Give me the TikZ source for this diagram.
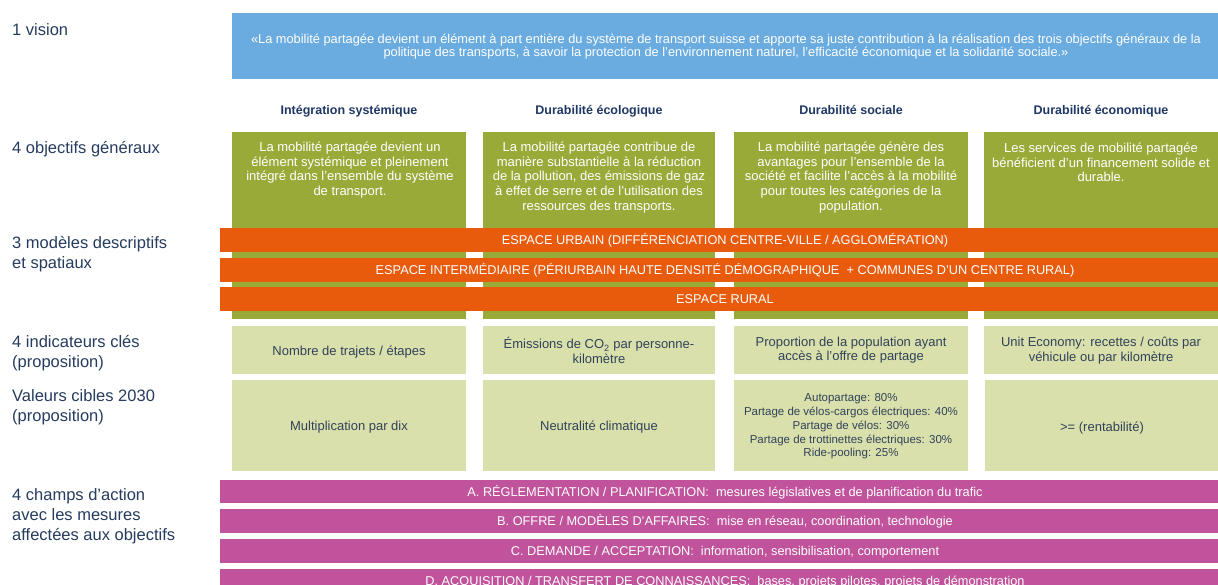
\documentclass[tikz,border=0pt]{standalone}
\usepackage{fontspec}
\setmainfont{Liberation Sans}
\usetikzlibrary{fit}
\definecolor{visblue}{RGB}{106,172,224}
\definecolor{objgreen}{RGB}{154,170,57}
\definecolor{spaceorange}{RGB}{233,91,12}
\definecolor{indgreen}{RGB}{217,224,171}
\definecolor{actpurple}{RGB}{192,83,155}
\definecolor{labelblue}{RGB}{38,60,95}
\definecolor{headblue}{RGB}{31,56,100}
\definecolor{indtext}{RGB}{50,66,90}
\begin{document}
\begin{tikzpicture}[x=1pt,y=-1pt,
  panel/.style={inner sep=0pt, outer sep=0pt, draw=none},
  visionbox/.style={panel, fill=visblue},
  objbox/.style={panel, fill=objgreen},
  spacebar/.style={panel, fill=spaceorange},
  indbox/.style={panel, fill=indgreen},
  actbar/.style={panel, fill=actpurple},
  rowlabel/.style={anchor=west, align=left, inner sep=0pt, text=labelblue, font=\fontsize{16.5}{20}\selectfont},
  colhead/.style={inner sep=0pt, anchor=base, text=headblue, font=\bfseries\fontsize{12.5}{15}\selectfont},
  visiontext/.style={inner sep=0pt, align=center, text=white, font=\fontsize{12.8}{13}\selectfont},
  objtext/.style={inner sep=0pt, align=center, text=white, font=\fontsize{13}{14.7}\selectfont},
  bartext/.style={inner sep=0pt, text height=9.2pt, text depth=2.7pt, text=white, font=\fontsize{12.75}{14}\selectfont},
  indtxt/.style={inner sep=0pt, align=center, text=indtext, font=\fontsize{13}{14.5}\selectfont},
  indline/.style={inner sep=0pt, text height=9.4pt, text depth=2.7pt, text=indtext, font=\fontsize{13}{14.5}\selectfont},
  smalltxt/.style={inner sep=0pt, align=center, text=indtext, font=\fontsize{11.5}{13.7}\selectfont}
]
\useasboundingbox (0,0) rectangle (1218,585);
\clip (0,0) rectangle (1218,585);
\fill[white] (0,0) rectangle (1218,585);

% row labels
\node[rowlabel] (l1) at (12,30) {1 vision};
\node[rowlabel] (l2) at (12,149) {4 objectifs généraux};
\node[rowlabel] (l3) at (12,254) {3 modèles descriptifs\\et spatiaux};
\node[rowlabel] (l4) at (12,353) {4 indicateurs clés\\(proposition)};
\node[rowlabel] (l5) at (12,407) {Valeurs cibles 2030\\(proposition)};
\node[rowlabel] (l6) at (12,516.5) {4 champs d’action\\avec les mesures\\affectées aux objectifs};

% vision
\node[visionbox, fit={(232,13) (1218,79)}] (vis) {};
\node[visiontext] (vist) at (726,46.5) {«La mobilité partagée devient un élément à part entière du système de transport suisse et apporte sa juste contribution à la réalisation des trois objectifs généraux de la\\politique des transports, à savoir la protection de l’environnement naturel, l’efficacité économique et la solidarité sociale.»};

% column headers
\node[colhead] (h1) at (349,114.5) {Intégration systémique};
\node[colhead] (h2) at (599,114.5) {Durabilité écologique};
\node[colhead] (h3) at (851,114.5) {Durabilité sociale};
\node[colhead] (h4) at (1101,114.5) {Durabilité économique};

% objective boxes
\node[objbox, fit={(232,132) (466,319)}] (g1) {};
\node[objbox, fit={(483,132) (715,319)}] (g2) {};
\node[objbox, fit={(734,132) (968,319)}] (g3) {};
\node[objbox, fit={(984,132) (1218,319)}] (g4) {};
\node[objtext] (g1t) at (350,170) {La mobilité partagée devient un\\élément systémique et pleinement\\intégré dans l’ensemble du système\\de transport.};
\node[objtext] (g2t) at (599,177.5) {La mobilité partagée contribue de\\manière substantielle à la réduction\\de la pollution, des émissions de gaz\\à effet de serre et de l’utilisation des\\ressources des transports.};
\node[objtext] (g3t) at (851,177.5) {La mobilité partagée génère des\\avantages pour l’ensemble de la\\société et facilite l’accès à la mobilité\\pour toutes les catégories de la\\population.};
\node[objtext] (g4t) at (1101,162.5) {Les services de mobilité partagée\\bénéficient d’un financement solide et\\durable.};

% spatial bars
\node[spacebar, fit={(220,228) (1218,252)}] (s1) {};
\node[spacebar, fit={(220,258) (1218,282)}] (s2) {};
\node[spacebar, fit={(220,287) (1218,311)}] (s3) {};
\node[bartext] (s1t) at (725,241) {ESPACE URBAIN (DIFFÉRENCIATION CENTRE-VILLE / AGGLOMÉRATION)};
\node[bartext] (s2t) at (725,271) {ESPACE INTERMÉDIAIRE (PÉRIURBAIN HAUTE DENSITÉ DÉMOGRAPHIQUE\ \ + COMMUNES D’UN CENTRE RURAL)};
\node[bartext] (s3t) at (725,300) {ESPACE RURAL};

% indicator boxes
\node[indbox, fit={(232,326) (466,374)}] (i1) {};
\node[indbox, fit={(483,326) (715,374)}] (i2) {};
\node[indbox, fit={(734,326) (968,374)}] (i3) {};
\node[indbox, fit={(984,326) (1218,374)}] (i4) {};
\node[indline] (i1t) at (349,352) {Nombre de trajets / étapes};
\node[indtxt] (i2t) at (599,350.5) {Émissions de CO\textsubscript{2} par personne-\\kilomètre};
\node[indtxt] (i3t) at (851,350) {Proportion de la population ayant\\accès à l’offre de partage};
\node[indtxt] (i4t) at (1101,350.5) {Unit Economy: recettes / coûts par\\véhicule ou par kilomètre};

% target values
\node[indbox, fit={(232,380) (466,471)}] (v1) {};
\node[indbox, fit={(483,380) (715,471)}] (v2) {};
\node[indbox, fit={(734,380) (968,471)}] (v3) {};
\node[indbox, fit={(985,380) (1218,471)}] (v4) {};
\node[indline] (v1t) at (349,427.5) {Multiplication par dix};
\node[indline] (v2t) at (599,427.5) {Neutralité climatique};
\node[smalltxt] (v3t) at (851,426.5) {Autopartage: 80\%\\Partage de vélos-cargos électriques: 40\%\\Partage de vélos: 30\%\\Partage de trottinettes électriques: 30\%\\Ride-pooling: 25\%};
\node[indline] (v4t) at (1102,428.5) {>= (rentabilité)};

% action fields
\node[actbar, fit={(220,480) (1218,503)}] (a1) {};
\node[actbar, fit={(220,509) (1218,533)}] (a2) {};
\node[actbar, fit={(220,539) (1218,563)}] (a3) {};
\node[actbar, fit={(220,569) (1218,593)}] (a4) {};
\node[bartext] (a1t) at (725,493) {A. RÉGLEMENTATION / PLANIFICATION:\ \ mesures législatives et de planification du trafic};
\node[bartext] (a2t) at (725,522) {B. OFFRE / MODÈLES D’AFFAIRES:\ \ mise en réseau, coordination, technologie};
\node[bartext] (a3t) at (725,552) {C. DEMANDE / ACCEPTATION:\ \ information, sensibilisation, comportement};
\node[bartext] (a4t) at (725,582) {D. ACQUISITION / TRANSFERT DE CONNAISSANCES:\ \ bases, projets pilotes, projets de démonstration};
\end{tikzpicture}
\end{document}
